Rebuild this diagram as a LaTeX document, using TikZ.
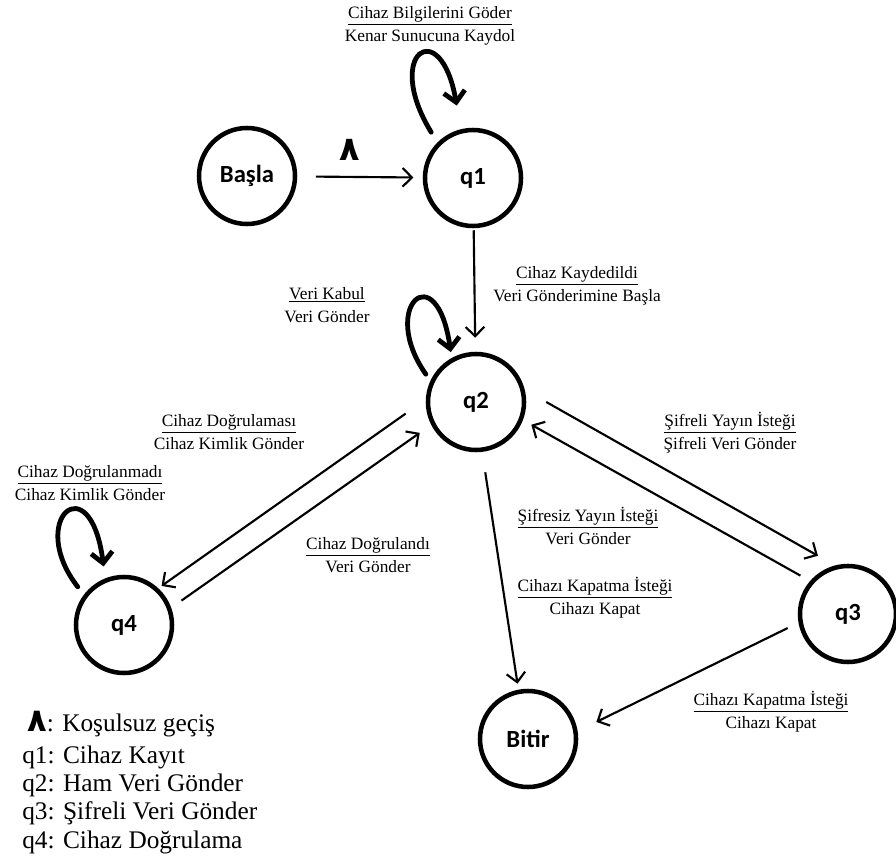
\documentclass[tikz,border=0pt]{standalone}
\usepackage{fontspec}
\setmainfont{Liberation Serif}
\newfontfamily\durumfont{Carlito}
\newfontfamily\arabicfont[Script=Arabic]{DejaVu Sans}
\usepackage{tikz}
\usetikzlibrary{arrows.meta}
\tikzstyle{durum}=[circle, draw, line width=3.4pt, minimum size=72pt, inner sep=0pt, font=\durumfont\bfseries\fontsize{18.5}{20}\selectfont]
\tikzstyle{gecis}=[line width=1.6pt, -{Straight Barb[length=7pt,width=14pt]}]
\tikzstyle{dongu}=[line width=3.6pt, line cap=round, -{Straight Barb[length=8pt,width=16pt]}]
\tikzstyle{etiket}=[align=center, inner sep=0pt, font=\fontsize{13}{17}\selectfont]
\newcommand{\etk}[2]{\underline{#1}\\#2}

\begin{document}
\begin{tikzpicture}[x=0.75pt, y=-0.75pt]
    \useasboundingbox (0,0) rectangle (896,859);

    % Durumlar
    \foreach \ad/\x/\y/\yazi in {basla/247/176/Başla, q1/473/178/q1, q2/476/402/q2,
                                 q3/848/614/q3, q4/124/625/q4, bitir/528/739/Bitir}
        \node[durum] (\ad) at (\x,\y) {\yazi};

    % Geçişler
    \draw[gecis, shorten <=14pt, shorten >=7pt] (basla) -- (q1);
    \node[font=\bfseries\fontsize{25}{25}\selectfont] (kosulsuz) at (350,150) {\arabicfont ٨};
    \draw[gecis, shorten <=1.5pt, shorten >=10.5pt] (q1) -- (q2);
    \draw[gecis, shorten <=18.5pt, shorten >=3pt] (q2.177) -- (q4.47);
    \draw[gecis, shorten <=9.4pt, shorten >=10.5pt] (q4.20) -- (q2.207);
    \draw[gecis, shorten <=18.5pt, shorten >=14.7pt] (q2.14) -- (q3.105);
    \draw[gecis, shorten <=8.3pt, shorten >=7.2pt] (q3.139) -- (q2.339);
    \draw[gecis, shorten <=15.5pt, shorten >=4.5pt] (q2.277) -- (bitir.101);
    \draw[gecis, shorten <=9pt, shorten >=15.6pt] (q3.190) -- (bitir.9);

    % Kendine dönen geçişler
    \draw[dongu, shorten <=9pt, shorten >=18pt] (q1.135) .. controls +(-55,-90) and +(-20,-115) .. (q1.104);
    \draw[dongu, shorten <=6pt, shorten >=4.5pt] (q2.155) .. controls +(-52,-74) and +(-15,-104) .. (q2.119);
    \draw[dongu, shorten <=7.5pt, shorten >=9pt] (q4.143) .. controls +(-58,-75) and +(-15,-115) .. (q4.112);

    % Etiketler
    \node[etiket] (e1) at (430,26) {\etk{Cihaz Bilgilerini Göder}{Kenar Sunucuna Kaydol}};
    \node[etiket] (e2) at (577,286) {\etk{Cihaz Kaydedildi}{Veri Gönderimine Başla}};
    \node[etiket] (e3) at (327,305) {\etk{Veri Kabul}{Veri Gönder}};
    \node[etiket] (e4) at (229,432) {\etk{Cihaz Doğrulaması}{Cihaz Kimlik Gönder}};
    \node[etiket] (e5) at (90,483) {\etk{Cihaz Doğrulanmadı}{Cihaz Kimlik Gönder}};
    \node[etiket] (e6) at (368,555) {\etk{Cihaz Doğrulandı}{Veri Gönder}};
    \node[etiket] (e7) at (730,433) {\etk{Şifreli Yayın İsteği}{Şifreli Veri Gönder}};
    \node[etiket] (e8) at (588,526) {\etk{Şifresiz Yayın İsteği}{Veri Gönder}};
    \node[etiket] (e9) at (595,598) {\etk{Cihazı Kapatma İsteği}{Cihazı Kapat}};
    \node[etiket] (e10) at (771,712) {\etk{Cihazı Kapatma İsteği}{Cihazı Kapat}};

    % Açıklama
    \node[anchor=west, inner sep=0pt, font=\fontsize{19}{20}\selectfont] (a0) at (27,724)
        {{\arabicfont\bfseries\fontsize{24}{24}\selectfont ٨}: Koşulsuz geçiş};
    \foreach \y/\yazi [count=\i] in {757/q1: Cihaz Kayıt, 785/q2: Ham Veri Gönder,
                                     813/q3: Şifreli Veri Gönder, 842/q4: Cihaz Doğrulama}
        \node[anchor=west, inner sep=0pt, font=\fontsize{19}{20}\selectfont] (a\i) at (22,\y) {\yazi};
\end{tikzpicture}
\end{document}
